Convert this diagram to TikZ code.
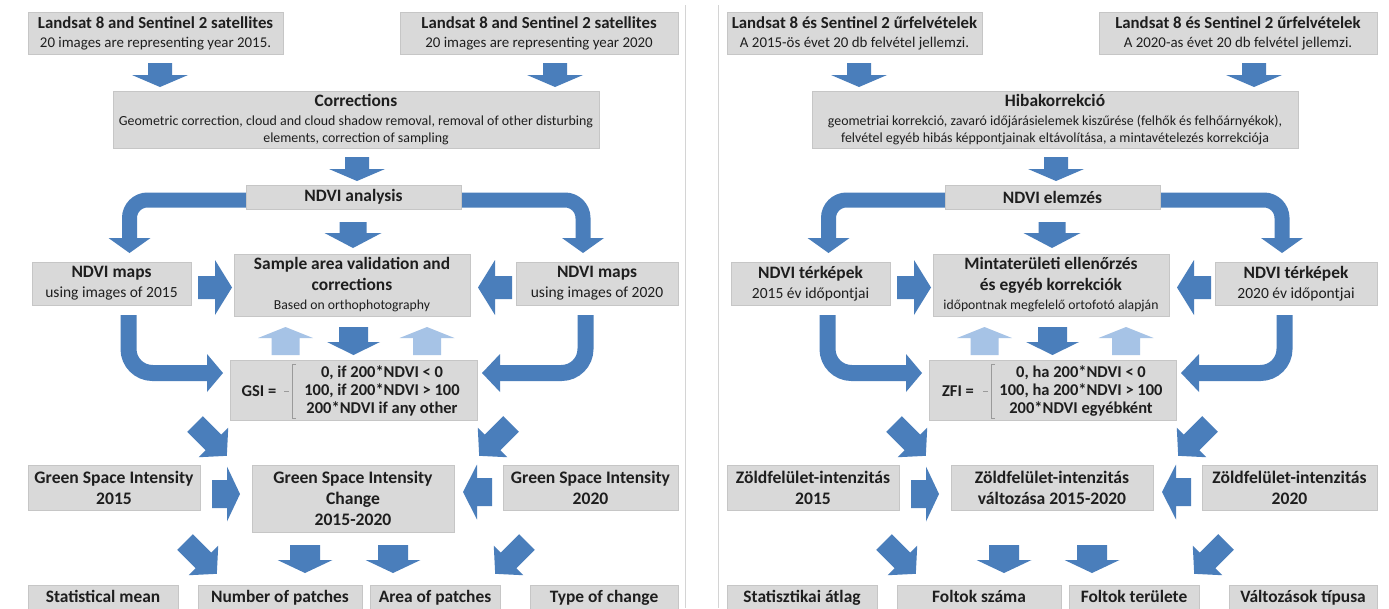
\documentclass[tikz,border=0pt]{standalone}
\usepackage{fontspec}
\setmainfont{Carlito}
\definecolor{ablue}{HTML}{4A7EBB}
\definecolor{alight}{HTML}{A6C3E6}
\definecolor{boxfill}{HTML}{D9D9D9}
\definecolor{boxline}{HTML}{C6C6C6}
\definecolor{txt}{HTML}{1E1E1E}
\definecolor{sepline}{HTML}{D4D4D4}
\definecolor{brk}{HTML}{9A9A9A}
\newcommand\fsz[2]{\fontsize{#1}{#2}\selectfont}
% block arrow: [colour]{tail}{angle}{length}{shaft half width}{head half width}{head length}
\newcommand\blockarrow[7][ablue]{\fill[#1,shift={#2},rotate=#3] (0,{-#5}) -- ({#4-#7},{-#5}) -- ({#4-#7},{-#6}) -- (#4,0) -- ({#4-#7},{#6}) -- ({#4-#7},{#5}) -- (0,{#5}) -- cycle;}
\newcommand\panelarrows{%
  \blockarrow{(160,63)}{-90}{24}{12}{28}{12}
  \blockarrow{(555,63)}{-90}{24}{12}{28}{12}
  \blockarrow{(357,157)}{-90}{24}{12}{28}{12}
  % curved arrows from the analysis box
  \draw[ablue,line width=15pt,rounded corners=18pt] (246,200) -- (129.5,200) -- (129.5,239);
  \fill[ablue] (108.5,238) -- (150.5,238) -- (129.5,253) -- cycle;
  \draw[ablue,line width=15pt,rounded corners=18pt] (461,200) -- (583,200) -- (583,239);
  \fill[ablue] (562,238) -- (604,238) -- (583,253) -- cycle;
  \blockarrow{(353,222)}{-90}{26}{13.5}{28.5}{15}
  % side arrows into the validation box
  \blockarrow{(198,287.5)}{0}{34}{11.5}{27.5}{17}
  \blockarrow{(512,287.5)}{180}{34}{11.5}{27.5}{17}
  % arrows between validation and formula
  \blockarrow[alight]{(285.5,355)}{90}{28}{14}{27.5}{11}
  \blockarrow[alight]{(427,355)}{90}{28}{14}{27.5}{11}
  \blockarrow{(353.5,327)}{-90}{28}{14.5}{26.5}{13}
  % curved arrows from the map boxes
  \draw[ablue,line width=16pt,rounded corners=24pt] (128.5,315) -- (128.5,373) -- (208,373);
  \fill[ablue] (207,354) -- (207,392) -- (223,373) -- cycle;
  \draw[ablue,line width=16pt,rounded corners=24pt] (585.5,315) -- (585.5,373) -- (499,373);
  \fill[ablue] (500,354) -- (500,392) -- (482,373) -- cycle;
  % diagonal arrows
  \blockarrow{(195,424)}{-45}{45}{11}{21}{19}
  \blockarrow{(511,424)}{-135}{45}{11}{21}{19}
  \blockarrow{(212,494)}{0}{28}{14}{27.5}{13}
  \blockarrow{(492,492)}{180}{29}{14}{27.5}{14}
  \blockarrow{(185,542)}{-45}{45}{11}{21}{19}
  \blockarrow{(527,542)}{-135}{45}{11}{21}{19}
  \blockarrow{(305,545)}{-90}{28}{15}{27.5}{13}
  \blockarrow{(393,545)}{-90}{28}{15}{27.5}{13}
}
\begin{document}
\begin{tikzpicture}[x=1pt,y=-1pt,
  box/.style={fill=boxfill,draw=boxline,line width=0.5pt,inner sep=0pt,align=center,text=txt,font=\fsz{17.4}{19}},
  topbox/.style={box,font=\fsz{16.8}{19}},
  endbox/.style={box,text height=12pt,text depth=3.5pt},
  formula/.style={inner sep=0pt,align=center,text=txt,font=\fsz{16.5}{18}\bfseries},
  brace/.style={draw=brk,line width=0.6pt}]
\useasboundingbox (0,0) rectangle (1389,608);
\fill[white] (0,0) rectangle (1389,608);
\draw[sepline,line width=0.8pt] (685,5) -- (685,608);
\draw[sepline,line width=0.8pt] (718,5) -- (718,608);

%================ LEFT PANEL (English) =================
\begin{scope}
\panelarrows
\node[topbox,minimum width=255pt,minimum height=42pt] (L-t1) at (155.5,33) {\textbf{Landsat 8 and Sentinel 2 satellites}\\{\fsz{14.9}{19}20 images are representing year 2015.}};
\node[topbox,minimum width=278pt,minimum height=42pt] (L-t2) at (539,33) {\textbf{Landsat 8 and Sentinel 2 satellites}\\{\fsz{14.9}{19}20 images are representing year 2020}};
\node[box,minimum width=486pt,minimum height=57pt] (L-corr) at (356,120) {\textbf{Corrections}\\{\fsz{13.9}{16}Geometric correction, cloud and cloud shadow removal, removal of other disturbing}\\[-2pt]{\fsz{13.9}{16}elements, correction of sampling}};
\node[box,minimum width=215pt,minimum height=24pt] (L-ndvi) at (353.5,197) {\textbf{NDVI analysis}};
\node[box,minimum width=236pt,minimum height=62pt,font=\fsz{17.4}{21}] (L-val) at (352,285) {\textbf{Sample area validation and}\\\textbf{corrections}\\[-2pt]{\fsz{13.7}{16}Based on orthophotography}};
\node[box,minimum width=159pt,minimum height=43pt,font=\fsz{17.4}{20}] (L-m1) at (111.5,283.5) {\textbf{NDVI maps}\\{\fsz{15.5}{19}using images of 2015}};
\node[box,minimum width=162pt,minimum height=43pt,font=\fsz{17.4}{20}] (L-m2) at (597,283.5) {\textbf{NDVI maps}\\{\fsz{15.5}{19}using images of 2020}};
\node[box,minimum width=247pt,minimum height=60pt] (L-gsi) at (353.5,390) {};
\node[formula] (L-gsilab) at (259,391) {GSI =};
\draw[brace] (296,364) -- (292,364) -- (292,418) -- (296,418);
\draw[brace] (284,391) -- (289,391);
\node[formula] (L-cases) at (382,391) {0, if 200*NDVI < 0\\100, if 200*NDVI > 100\\200*NDVI if any other};
\node[box,minimum width=172pt,minimum height=45pt,font=\fsz{17.6}{21}] (L-g1) at (114,487.5) {\textbf{Green Space Intensity}\\\textbf{2015}};
\node[box,minimum width=202pt,minimum height=67pt,font=\fsz{17.6}{21}] (L-gc) at (353,498.5) {\textbf{Green Space Intensity}\\\textbf{Change}\\\textbf{2015-2020}};
\node[box,minimum width=175pt,minimum height=45pt,font=\fsz{17.6}{21}] (L-g2) at (590.5,487.5) {\textbf{Green Space Intensity}\\\textbf{2020}};
\node[endbox,minimum width=150pt,minimum height=26pt] (L-b1) at (103,598) {\textbf{Statistical mean}};
\node[endbox,minimum width=164pt,minimum height=26pt] (L-b2) at (280,598) {\textbf{Number of patches}};
\node[endbox,minimum width=130pt,minimum height=26pt] (L-b3) at (435,598) {\textbf{Area of patches}};
\node[endbox,minimum width=148pt,minimum height=26pt] (L-b4) at (604,598) {\textbf{Type of change}};
\end{scope}

%================ RIGHT PANEL (Hungarian) =================
\begin{scope}[xshift=699pt]
\panelarrows
\node[topbox,minimum width=255pt,minimum height=42pt] (R-t1) at (155.5,33) {\textbf{Landsat 8 és Sentinel 2 űrfelvételek}\\{\fsz{14.9}{19}A 2015-ös évet 20 db felvétel jellemzi.}};
\node[topbox,minimum width=278pt,minimum height=42pt] (R-t2) at (539,33) {\textbf{Landsat 8 és Sentinel 2 űrfelvételek}\\{\fsz{14.9}{19}A 2020-as évet 20 db felvétel jellemzi.}};
\node[box,minimum width=486pt,minimum height=57pt] (R-corr) at (356,120) {\textbf{Hibakorrekció}\\{\fsz{13.9}{16}geometriai korrekció, zavaró időjárásielemek kiszűrése (felhők és felhőárnyékok),}\\[-2pt]{\fsz{13.9}{16}felvétel egyéb hibás képpontjainak eltávolítása, a mintavételezés korrekciója}};
\node[box,minimum width=215pt,minimum height=24pt] (R-ndvi) at (353.5,197) {\textbf{NDVI elemzés}};
\node[box,minimum width=236pt,minimum height=62pt,font=\fsz{17.4}{21}] (R-val) at (352,285) {\textbf{Mintaterületi ellenőrzés}\\\textbf{és egyéb korrekciók}\\[-2pt]{\fsz{13.7}{16}időpontnak megfelelő ortofotó alapján}};
\node[box,minimum width=159pt,minimum height=43pt,font=\fsz{17.4}{20}] (R-m1) at (111.5,283.5) {\textbf{NDVI térképek}\\{\fsz{15.5}{19}2015 év időpontjai}};
\node[box,minimum width=162pt,minimum height=43pt,font=\fsz{17.4}{20}] (R-m2) at (597,283.5) {\textbf{NDVI térképek}\\{\fsz{15.5}{19}2020 év időpontjai}};
\node[box,minimum width=247pt,minimum height=60pt] (R-gsi) at (353.5,390) {};
\node[formula] (R-gsilab) at (259,391) {ZFI =};
\draw[brace] (296,364) -- (292,364) -- (292,418) -- (296,418);
\draw[brace] (284,391) -- (289,391);
\node[formula] (R-cases) at (382,391) {0, ha 200*NDVI < 0\\100, ha 200*NDVI > 100\\200*NDVI egyébként};
\node[box,minimum width=172pt,minimum height=45pt,font=\fsz{17.6}{21}] (R-g1) at (114,487.5) {\textbf{Zöldfelület-intenzitás}\\\textbf{2015}};
\node[box,minimum width=202pt,minimum height=45pt,font=\fsz{17.6}{21}] (R-gc) at (353,487.5) {\textbf{Zöldfelület-intenzitás}\\\textbf{változása 2015-2020}};
\node[box,minimum width=175pt,minimum height=45pt,font=\fsz{17.6}{21}] (R-g2) at (590.5,487.5) {\textbf{Zöldfelület-intenzitás}\\\textbf{2020}};
\node[endbox,minimum width=150pt,minimum height=26pt] (R-b1) at (103,598) {\textbf{Statisztikai átlag}};
\node[endbox,minimum width=164pt,minimum height=26pt] (R-b2) at (280,598) {\textbf{Foltok száma}};
\node[endbox,minimum width=130pt,minimum height=26pt] (R-b3) at (435,598) {\textbf{Foltok területe}};
\node[endbox,minimum width=148pt,minimum height=26pt] (R-b4) at (604,598) {\textbf{Változások típusa}};
\end{scope}
\end{tikzpicture}
\end{document}
